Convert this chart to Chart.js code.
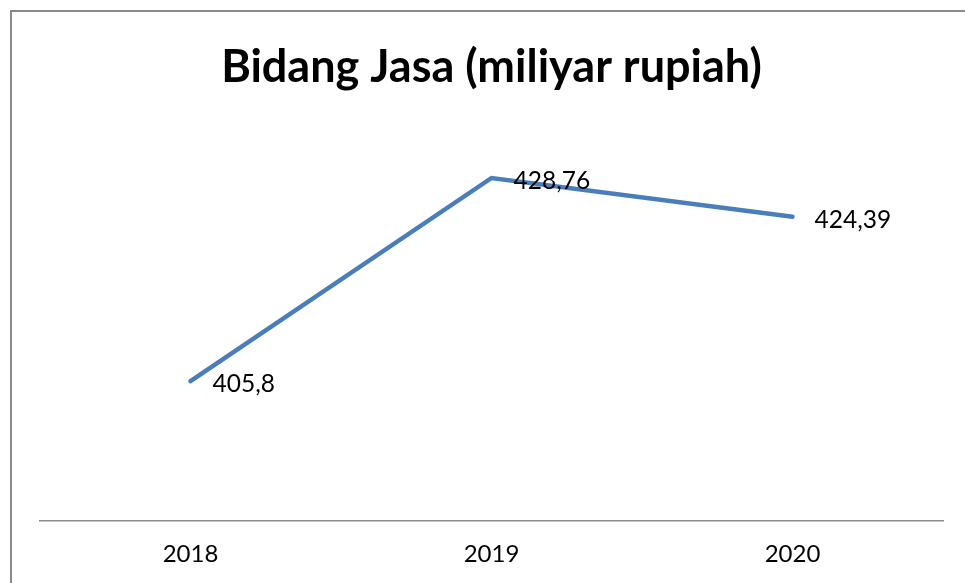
<!DOCTYPE html>
<html>
<head>
<meta charset="utf-8">
<script src="https://cdn.jsdelivr.net/npm/chart.js@4/dist/chart.umd.min.js"></script>
<style>
  body { margin: 0; background: #fff; }
  #wrap { position: relative; width: 965px; height: 583px; }
  #bingkai { position: absolute; left: 10px; top: 10px; width: 1000px; height: 700px;
             border-left: 2px solid #8a8a8a; border-top: 2px solid #8a8a8a; }
  canvas { position: absolute; left: 0; top: 0; }
</style>
</head>
<body>
<div id="wrap">
  <div id="bingkai"></div>
  <canvas id="grafik" width="965" height="583"></canvas>
</div>
<script>
// Data grafik
var tahun = ['2018', '2019', '2020'];
var nilaiJasa = [405.8, 428.76, 424.39];
var judul = 'Bidang Jasa (miliyar rupiah)';

// Plugin untuk menulis label nilai di sebelah kanan titik
var labelNilai = {
    id: 'labelNilai',
    afterDatasetsDraw: function (chart) {
        var ctx = chart.ctx;
        var meta = chart.getDatasetMeta(0);
        ctx.save();
        ctx.font = '24.5px Lato';
        ctx.fillStyle = '#000';
        ctx.textBaseline = 'middle';
        ctx.textAlign = 'left';
        meta.data.forEach(function (titik, i) {
            var teks = String(nilaiJasa[i]).replace('.', ',');
            ctx.fillText(teks, titik.x + 22, titik.y + 3);
        });
        ctx.restore();
    }
};

var ctx = document.getElementById('grafik').getContext('2d');
new Chart(ctx, {
    type: 'line',
    data: {
        labels: tahun,
        datasets: [{
            data: nilaiJasa,
            borderColor: '#4a7ebb',
            borderWidth: 4.5,
            borderCapStyle: 'round',
            borderJoinStyle: 'miter',
            pointRadius: 0,
            tension: 0,
            fill: false
        }]
    },
    options: {
        responsive: false,
        animation: false,
        layout: { padding: { left: 40, right: 22, top: 0, bottom: 0 } },
        plugins: {
            legend: { display: false },
            tooltip: { enabled: false },
            title: {
                display: true,
                text: judul,
                color: '#000',
                font: { family: 'Lato', size: 45, weight: 'bold', lineHeight: 1.2 },
                padding: { top: 40, bottom: 73 }
            }
        },
        scales: {
            x: {
                offset: true,
                grid: { display: false, drawTicks: false },
                border: { display: true, color: '#8c8c8c', width: 1.5 },
                ticks: { color: '#000', padding: 19, font: { family: 'Lato', size: 24, lineHeight: 1.2 } },
                afterFit: function (scale) { scale.height = 62; }
            },
            y: {
                display: false,
                min: 390,
                max: 430
            }
        }
    },
    plugins: [labelNilai]
});
</script>
</body>
</html>
